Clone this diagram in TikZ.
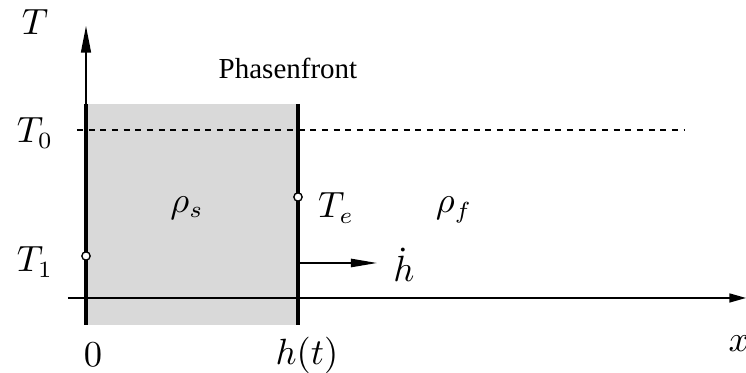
\documentclass[tikz,border=0pt]{standalone}
\usepackage{fontspec}
\newfontfamily\labelfont{Liberation Serif}
\usetikzlibrary{arrows.meta}
\definecolor{solidgray}{RGB}{217,217,217}
\begin{document}
\begin{tikzpicture}[x=0.3pt,y=-0.3pt,
  thinline/.style={line width=0.45pt},
  thickline/.style={line width=0.95pt},
  bigtip/.style={-{Triangle[length=8pt,width=3pt]}},
  marker/.style={circle,draw,fill=white,line width=0.4pt,inner sep=0pt,minimum size=2.5pt},
  lbl/.style={inner sep=0pt,font=\fontsize{10.5}{12}\selectfont}
]
\useasboundingbox (0,0) rectangle (746,373);
% solid region
\fill[solidgray] (86,104) rectangle (298,325);
% coordinates
\coordinate (Tbot) at (86,325);
\coordinate (Ttop) at (86,26);
\coordinate (xl) at (68,298);
\coordinate (xr) at (746,298);
\coordinate (dl) at (77,130);
\coordinate (dr) at (685,130);
\coordinate (ftop) at (298,104);
\coordinate (fbot) at (298,325);
\coordinate (lt) at (86,104);
\coordinate (hs) at (298,263);
\coordinate (he) at (377,263);
% dashed T0 line
\draw[line width=0.4pt,dash pattern=on 1.8pt off 1.7pt] (dl) -- (dr);
% axes
\draw[thinline,bigtip] (Tbot) -- (Ttop);
\draw[thinline,-{Triangle[length=5pt,width=2.7pt]}] (xl) -- (xr);
% thick boundaries
\draw[thickline] (lt) -- (Tbot);
\draw[thickline] (ftop) -- (fbot);
% velocity arrow
\draw[thinline,-{Triangle[length=7.8pt,width=2.5pt]}] (hs) -- (he);
% markers
\node[marker] (mTe) at (298,197) {};
\node[marker] (mT1) at (86,256) {};
% labels
\node[lbl] (lT) at (35,22) {$T$};
\node[inner sep=0pt,font=\labelfont\fontsize{8.7}{10}\selectfont] (lPh) at (288,68) {Phasenfront};
\node[lbl] (lT0) at (35,133) {$T_0$};
\node[lbl] (lT1) at (35,262) {$T_1$};
\node[lbl] (lrs) at (187,208) {$\rho_s$};
\node[lbl] (lTe) at (336,208) {$T_e$};
\node[lbl] (lrf) at (454,210) {$\rho_f$};
\node[lbl] (lhd) at (404,265) {$\dot h$};
\node[lbl] (lx) at (739,344) {$x$};
\node[lbl] (l0) at (93,355) {$0$};
\node[lbl] (lht) at (307,355) {$h(t)$};
\end{tikzpicture}
\end{document}
